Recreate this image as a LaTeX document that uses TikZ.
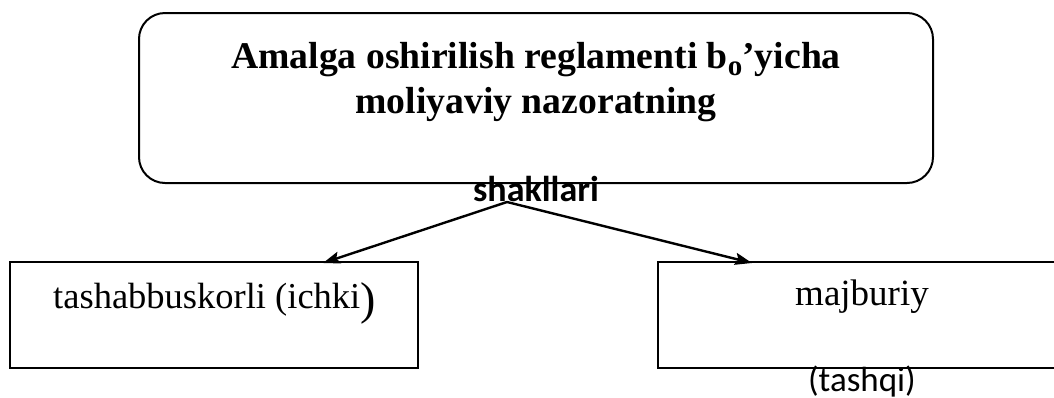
\documentclass[tikz,border=0pt]{standalone}
\usepackage{fontspec}
\setmainfont{Liberation Serif}
\newfontfamily\carlfont{Carlito}
\usetikzlibrary{arrows.meta}
\begin{document}
\begin{tikzpicture}[x=1pt,y=-1pt,
  boxline/.style={draw=black,line width=2pt,inner sep=0pt,outer sep=0pt},
  arr/.style={line width=2.4pt,-{Stealth[length=17pt,width=12pt,inset=3pt]}},
  serifbold/.style={font=\fontsize{37.7}{45}\selectfont\bfseries,inner sep=0pt,anchor=base},
  seriftext/.style={font=\fontsize{36.5}{44}\selectfont,inner sep=0pt,anchor=base},
  sanslabel/.style={font=\carlfont\fontsize{35}{42}\selectfont,inner sep=0pt,anchor=base}]
\useasboundingbox (0,0) rectangle (1054,397);
% boxes
\node[boxline,rounded corners=26pt,minimum width=794pt,minimum height=170pt,anchor=north west] (top) at (139,13) {};
\node[boxline,minimum width=408pt,minimum height=106pt,anchor=north west] (left) at (10,262) {};
\node[boxline,minimum width=420pt,minimum height=106pt,anchor=north west] (right) at (658,262) {};
% texts
\node[serifbold] (t1) at (536,68) {Amalga oshirilish reglamenti b{\fontsize{29}{29}\selectfont\raisebox{-7pt}{o}}’yicha};
\node[serifbold] (t2) at (536,113) {moliyaviy nazoratning};
\node[sanslabel,font=\carlfont\bfseries\fontsize{36}{42}\selectfont] (shak) at (536,201) {shakllari};
\node[seriftext,anchor=base west] (lt) at (53,308) {tashabbuskorli (ichki{\fontsize{46}{46}\selectfont\raisebox{-6pt}{)}}};
\node[seriftext,font=\fontsize{37}{44}\selectfont] (rt) at (862,305) {majburiy};
\node[sanslabel] (rt2) at (862,391) {(tashqi)};
% connectors
\coordinate (apex) at (507,202);
\coordinate (ltip) at (323,263);
\coordinate (rtip) at (752,263);
\draw[arr] (apex) -- (ltip);
\draw[arr] (apex) -- (rtip);
\end{tikzpicture}
\end{document}
